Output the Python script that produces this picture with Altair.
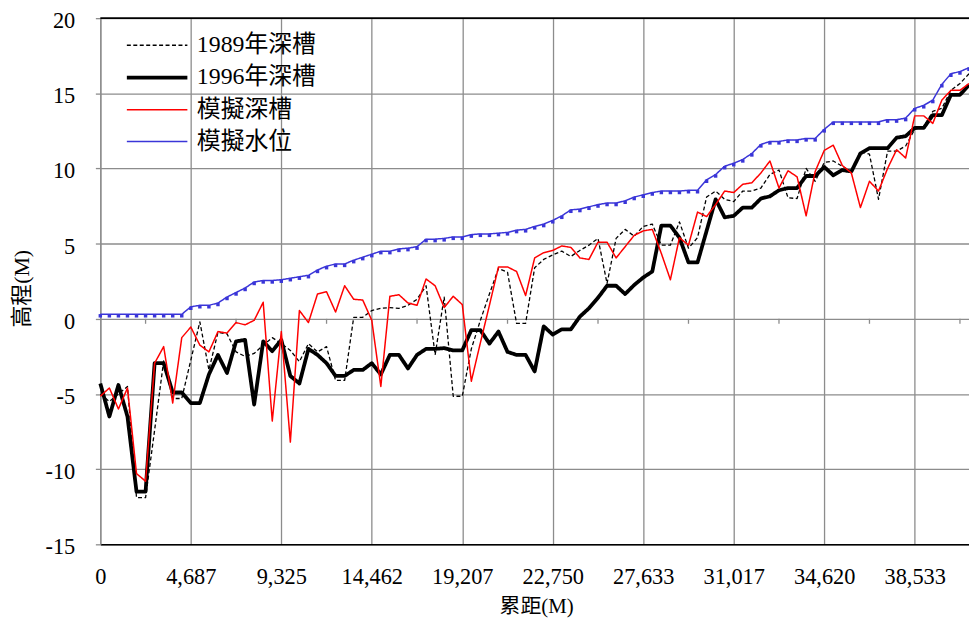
import altair as alt
import pandas as pd

# ---------------- data ----------------
tick_labels = ["0", "4,687", "9,325", "14,462", "19,207", "22,750",
               "27,633", "31,017", "34,620", "38,533"]
series_names = ["1989年深槽", "1996年深槽", "模擬深槽", "模擬水位"]

bed_1989 = [
    -5.0, -5.5, -5.0, -4.5, -11.9, -11.9, -7.4, -2.8, -5.3, -5.3,
    -2.75, -0.2, -3.4, -0.9, -1.0, -2.2, -2.5, -2.3, -1.75, -1.25,
    -1.65, -2.1, -2.85, -1.65, -2.2, -1.85, -4.1, -4.1, 0.1, 0.1,
    0.55, 0.7, 0.75, 0.7, 0.9, 1.3, 2.2, -2.4, 1.45, -5.15,
    -5.15, -2.0, -0.1, 1.65, 3.35, 3.1, -0.3, -0.3, 3.4, 3.95,
    4.25, 4.5, 4.15, 4.55, 4.9, 5.35, 2.35, 5.35, 5.95, 5.5,
    6.15, 6.3, 4.9, 4.9, 6.45, 4.7, 5.4, 8.1, 8.5, 7.95,
    7.8, 8.5, 8.5, 8.7, 9.6, 9.9, 8.05, 8.0, 10.0, 9.15,
    10.4, 10.5, 10.15, 9.8, 11.15, 10.95, 7.95, 11.15, 11.15, 11.5,
    12.6, 12.8, 13.8, 14.0, 15.2, 15.65, 16.3,
]
bed_1996 = [
    -4.3, -6.5, -4.4, -6.5, -11.5, -11.5, -2.95, -2.95, -4.9, -4.9,
    -5.6, -5.6, -3.7, -2.4, -3.6, -1.5, -1.4, -5.7, -1.5, -2.15,
    -1.4, -3.8, -4.3, -2.0, -2.4, -2.95, -3.8, -3.8, -3.4, -3.4,
    -2.95, -3.7, -2.4, -2.4, -3.3, -2.4, -2.0, -2.0, -1.95, -2.1,
    -2.1, -0.75, -0.75, -1.65, -0.85, -2.2, -2.4, -2.4, -3.5, -0.5,
    -1.05, -0.7, -0.7, 0.15, 0.7, 1.4, 2.2, 2.2, 1.65, 2.25,
    2.75, 3.15, 6.2, 6.2, 5.4, 3.75, 3.75, 5.85, 7.95, 6.75,
    6.85, 7.4, 7.4, 8.0, 8.15, 8.55, 8.7, 8.7, 9.5, 9.5,
    10.1, 9.55, 9.9, 9.8, 11.0, 11.35, 11.35, 11.35, 12.05, 12.15,
    12.7, 12.7, 13.55, 13.55, 14.9, 14.9, 15.55,
]
sim_bed = [
    -5.15, -4.6, -6.0, -4.6, -10.3, -10.8, -2.95, -1.85, -5.6, -1.25,
    -0.55, -1.75, -2.2, -0.85, -0.95, -0.25, -0.4, -0.1, 1.1, -6.8,
    -0.85, -8.2, 0.55, -0.25, 1.65, 1.8, 0.45, 2.2, 1.3, 1.25,
    -0.1, -4.5, 1.5, 1.6, 1.05, 0.9, 2.65, 2.2, 0.75, 1.5,
    0.95, -4.15, -1.6, 0.9, 3.45, 3.45, 3.15, 1.55, 4.05, 4.4,
    4.55, 4.85, 4.75, 4.05, 3.95, 5.1, 5.1, 4.05, 4.8, 5.55,
    5.85, 5.95, 4.35, 2.6, 5.4, 4.9, 7.1, 6.8, 7.6, 8.5,
    8.4, 8.95, 9.05, 9.7, 10.5, 8.7, 9.85, 9.45, 6.85, 9.8,
    11.2, 11.55, 10.2, 9.7, 7.4, 9.15, 8.5, 10.0, 11.25, 10.7,
    13.5, 13.5, 13.0, 14.55, 15.2, 15.2, 15.65,
]
sim_stage = [
    0.3, 0.3, 0.3, 0.3, 0.3, 0.3, 0.3, 0.3, 0.3, 0.3,
    0.8, 0.9, 0.9, 1.05, 1.45, 1.75, 2.05, 2.45, 2.55, 2.55,
    2.6, 2.7, 2.8, 2.9, 3.25, 3.5, 3.65, 3.65, 3.9, 4.1,
    4.3, 4.5, 4.5, 4.65, 4.7, 4.8, 5.3, 5.3, 5.35, 5.45,
    5.45, 5.6, 5.65, 5.65, 5.7, 5.75, 5.9, 5.95, 6.15, 6.3,
    6.55, 6.85, 7.25, 7.3, 7.45, 7.6, 7.7, 7.7, 7.85, 8.1,
    8.25, 8.4, 8.5, 8.5, 8.5, 8.55, 8.55, 9.25, 9.6, 10.15,
    10.35, 10.6, 11.0, 11.6, 11.8, 11.8, 11.9, 11.9, 12.0, 12.0,
    12.6, 13.1, 13.1, 13.1, 13.1, 13.1, 13.1, 13.25, 13.25, 13.35,
    14.0, 14.2, 14.55, 15.6, 16.3, 16.45, 16.7,
]

N = len(sim_stage)
rows = []
for name, vals in zip(series_names, [bed_1989, bed_1996, sim_bed, sim_stage]):
    for i, v in enumerate(vals):
        rows.append({"idx": i, "series": name, "value": v})
df = pd.DataFrame(rows)
stage_df = pd.DataFrame({"idx": list(range(N)), "value": sim_stage})
half_ticks = pd.DataFrame({"idx": list(range(5, N, 10))})
top_df = pd.DataFrame({"value": [20]})

# ---------------- style ----------------
FONT = "'Liberation Serif', 'Times New Roman', 'DejaVu Serif', 'Noto Sans CJK TC', serif"
GRID = "#8c8c8c"
BLUE = "#3a35d8"

xscale = alt.Scale(domain=[0, N - 1], nice=False, zero=False)
yscale = alt.Scale(domain=[-15, 20], nice=False, zero=False)
label_expr = "[" + ",".join("'" + t + "'" for t in tick_labels) + "][round(datum.value / 10)]"

legend = alt.Legend(
    title=None, orient="none", legendX=44.7, legendY=15.3,
    symbolType="M-3,0H3", symbolSize=413, symbolOffset=0,
    labelOffset=27.5, rowPadding=8, padding=0,
    labelFont=FONT, labelFontSize=24, labelColor="black",
)

x_axis = alt.Axis(
    values=list(range(0, N, 10)), labelExpr=label_expr, title="累距(M)",
    grid=True, gridColor=GRID, gridWidth=1.3,
    domainColor="black", domainWidth=1.6,
    ticks=False, tickSize=0, labelPadding=21,
    labelFont=FONT, labelFontSize=22.5, labelColor="black",
    labelFlush=False, labelOverlap=False,
    titleFont=FONT, titleFontSize=21, titleFontWeight="normal",
    titleColor="black", titleX=439, titleY=63, titleBaseline="middle",
)
y_axis = alt.Axis(
    values=[-15, -10, -5, 0, 5, 10, 15, 20], title="高程(M)",
    labelExpr="'' + datum.value", labelOffset=2.5,
    grid=True, gridColor=GRID, gridWidth=1.3,
    domainColor=GRID, domainWidth=1.3,
    ticks=True, tickColor=GRID, tickSize=5, tickWidth=1.3,
    labelPadding=20.8, labelFont=FONT, labelFontSize=22.5, labelColor="black",
    titleFont=FONT, titleFontSize=22, titleFontWeight="normal",
    titleColor="black", titleX=-79, titleY=272, titleBaseline="middle",
    titleAngle=270,
)

lines = alt.Chart(df).mark_line(strokeJoin="round").encode(
    x=alt.X("idx:Q", scale=xscale, axis=x_axis),
    y=alt.Y("value:Q", scale=yscale, axis=y_axis),
    color=alt.Color("series:N", sort=series_names,
                    scale=alt.Scale(type="ordinal", domain=series_names,
                                    range=["black", "black", "#ff0000", BLUE]),
                    legend=legend),
    strokeDash=alt.StrokeDash("series:N", sort=series_names,
                              scale=alt.Scale(type="ordinal", domain=series_names,
                                              range=[[4, 2.5], [1, 0], [1, 0], [1, 0]]),
                              legend=legend),
    strokeWidth=alt.StrokeWidth("series:N", sort=series_names,
                                scale=alt.Scale(type="ordinal", domain=series_names,
                                                range=[1.3, 3.8, 1.5, 1.5]),
                                legend=legend),
)

markers = alt.Chart(stage_df).mark_square(
    size=12, color=BLUE, opacity=1, yOffset=1.5
).encode(x="idx:Q", y="value:Q")

top_line = alt.Chart(top_df).mark_rule(color="black", strokeWidth=1.6).encode(
    y="value:Q"
)

zero_ticks = alt.Chart(half_ticks).mark_rule(color=GRID, strokeWidth=1.3).encode(
    x="idx:Q", y=alt.datum(0), y2=alt.datum(-0.33)
)

chart = alt.layer(zero_ticks, lines, markers, top_line).properties(
    width=875, height=530,
    autosize=alt.AutoSizeParams(type="none"),
    padding={"left": 93, "top": 8, "right": 0, "bottom": 75},
    background="white",
).configure_view(stroke=None)

chart.save("out.html", embed_options={"renderer": "svg", "actions": False})
